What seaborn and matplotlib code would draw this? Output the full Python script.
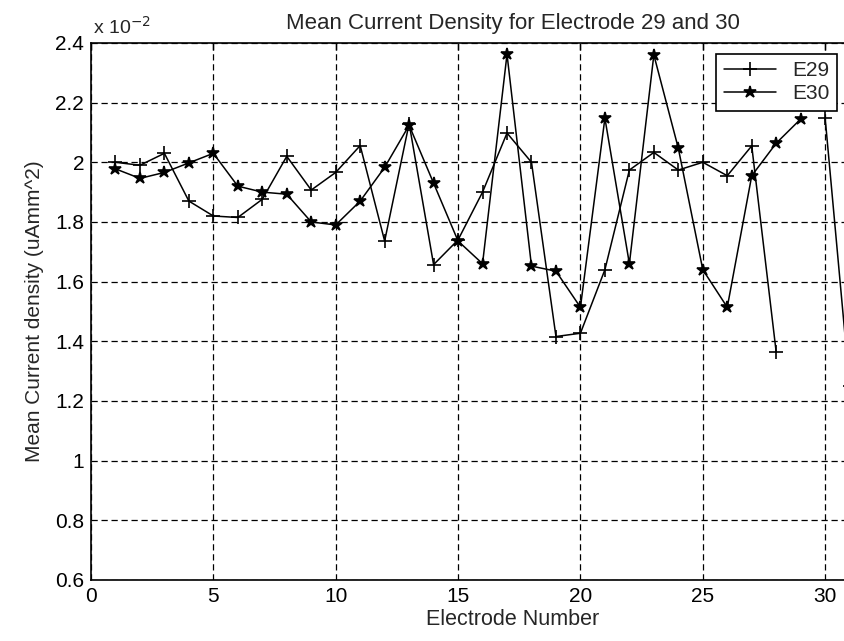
import numpy as np
import pandas as pd
import matplotlib
matplotlib.use("Agg")
import matplotlib.pyplot as plt
import seaborn as sns
from matplotlib.ticker import FuncFormatter

# 数据 (单位: x 10^-2 uA/mm^2), 电极编号 1..31
electrode = list(range(1, 32))
e29 = [2.00, 1.99, 2.03, 1.87, 1.82, 1.815, 1.876, 2.02, 1.907, 1.966,
       2.056, 1.736, 2.13, 1.657, 1.74, 1.90, 2.098, 2.00, 1.416, 1.427,
       1.64, 1.974, 2.033, 1.974, 2.00, 1.955, 2.055, 1.363, np.nan, 2.148,
       1.25]
e30 = [1.978, 1.946, 1.966, 1.998, 2.03, 1.92, 1.90, 1.893, 1.80, 1.79,
       1.87, 1.983, 2.124, 1.93, 1.736, 1.66, 2.362, 1.652, 1.635, 1.514,
       2.148, 1.66, 2.36, 2.047, 1.64, 1.514, 1.955, 2.064, 2.145, np.nan,
       np.nan]
series_names = ["E29", "E30"]
series_markers = ["+", "*"]

sns.set_style("white")
plt.rcParams["font.family"] = ["Liberation Sans", "DejaVu Sans"]

fig = plt.figure(figsize=(8.44, 6.41), dpi=100)
ax = fig.add_axes([0.1078, 0.0952, 0.8922, 0.8378])

handles = []
for name, vals, mk in zip(series_names, [e29, e30], series_markers):
    df = pd.DataFrame({"Electrode": electrode, "Current": vals})
    # NaN 处断开折线
    df["seg"] = df["Current"].isna().cumsum()
    df = df.dropna()
    n_before = len(ax.lines)
    sns.lineplot(data=df, x="Electrode", y="Current", units="seg",
                 estimator=None, color="black", linewidth=1.1,
                 marker=mk, markersize=9 if mk == "*" else 10,
                 markeredgecolor="black", markerfacecolor="black",
                 markeredgewidth=1.2, ax=ax)
    handles.append(ax.lines[n_before])

ax.set_xlim(0, 30.77)
ax.set_ylim(0.6, 2.4)
ax.set_xticks(range(0, 31, 5))
ax.set_yticks(np.arange(0.6, 2.41, 0.2))
ax.yaxis.set_major_formatter(FuncFormatter(lambda v, p: "%g" % round(v, 1)))

ax.grid(True, color="black", linestyle=(0, (5, 3)), linewidth=0.9)
ax.tick_params(direction="in", length=5, width=1, labelsize=15,
               top=True, colors="black", pad=5)
for s in ["left", "bottom", "top"]:
    ax.spines[s].set_color("black")
    ax.spines[s].set_linewidth(1.2)
ax.spines["right"].set_visible(False)

ax.set_xlabel("Electrode Number", fontsize=15.5, labelpad=2, x=0.56)
ax.set_ylabel("Mean Current density (uAmm^2)", fontsize=15, labelpad=8)
ax.set_title("Mean Current Density for Electrode 29 and 30", fontsize=16,
             x=0.56, pad=10)
ax.text(0.003, 1.01, "x 10$^{-2}$", transform=ax.transAxes, fontsize=14,
        ha="left", va="bottom")

leg = ax.legend(handles, series_names, loc="upper right",
                bbox_to_anchor=(0.9907, 0.9795), borderaxespad=0,
                fontsize=15, handlelength=2.5, borderpad=0.35,
                labelspacing=0.2, handletextpad=0.8, fancybox=False,
                framealpha=1, edgecolor="black")
leg.get_frame().set_linewidth(1.2)

plt.savefig("out.png", dpi=100)
